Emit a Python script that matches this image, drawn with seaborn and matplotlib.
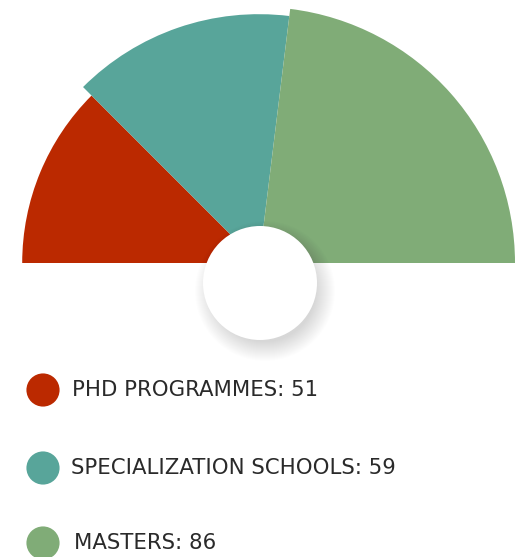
import numpy as np
import pandas as pd
import matplotlib
matplotlib.use("Agg")
import matplotlib.pyplot as plt
from matplotlib.patches import Wedge, Circle
import seaborn as sns

# data
categories = ["PHD PROGRAMMES", "SPECIALIZATION SCHOOLS", "MASTERS"]
values = [51, 59, 86]
colors = ["#bb2900", "#58a59a", "#80ac77"]

# arc share of each slice (degrees out of 180)
arc_share = [45, 52, 83]
# relative outer radius of each slice (as seen in the picture)
radius_scale = [0.925, 0.972, 1.0]

sns.set_style("white")
plt.rcParams['font.family'] = ['DejaVu Sans']

W, H = 524, 557
fig = plt.figure(figsize=(W / 100, H / 100), dpi=100)
ax = fig.add_axes([0, 0, 1, 1])

# semi-circle: slices laid out from left (180 deg) to right (0 deg)
cx, cy = 259, H - 263
r_max = 256
angles = np.array(arc_share) / sum(arc_share) * 180
start = 180.0
for ang, col, rs in zip(angles, colors, radius_scale):
    ax.add_patch(Wedge((cx, cy), r_max * rs, start - ang, start,
                       facecolor=col, edgecolor="none"))
    start -= ang

# white centre disc with soft drop shadow
hx, hy, hr = 260, H - 283, 57
for i in range(20):
    ax.add_patch(Circle((hx + 5, hy - 8), hr + 13 - i, facecolor="black",
                        edgecolor="none", alpha=0.009))
ax.add_patch(Circle((hx, hy), hr, facecolor="white", edgecolor="none"))

# legend
leg = pd.DataFrame({
    "x": [43, 43, 43],
    "y": [H - 390, H - 468, H - 543],
    "cat": categories,
})
sns.scatterplot(data=leg, x="x", y="y", hue="cat", palette=colors,
                s=570, linewidth=0, legend=False, ax=ax)
text_x = [72, 71, 74]
for tx, y, cat, val in zip(text_x, leg["y"], categories, values):
    ax.text(tx, y, f"{cat}: {val}", fontsize=15.3, color="#2a2a2a",
            va="center", ha="left")

ax.set_xlim(0, W)
ax.set_ylim(0, H)
ax.axis("off")
fig.savefig("out.png", dpi=100)
